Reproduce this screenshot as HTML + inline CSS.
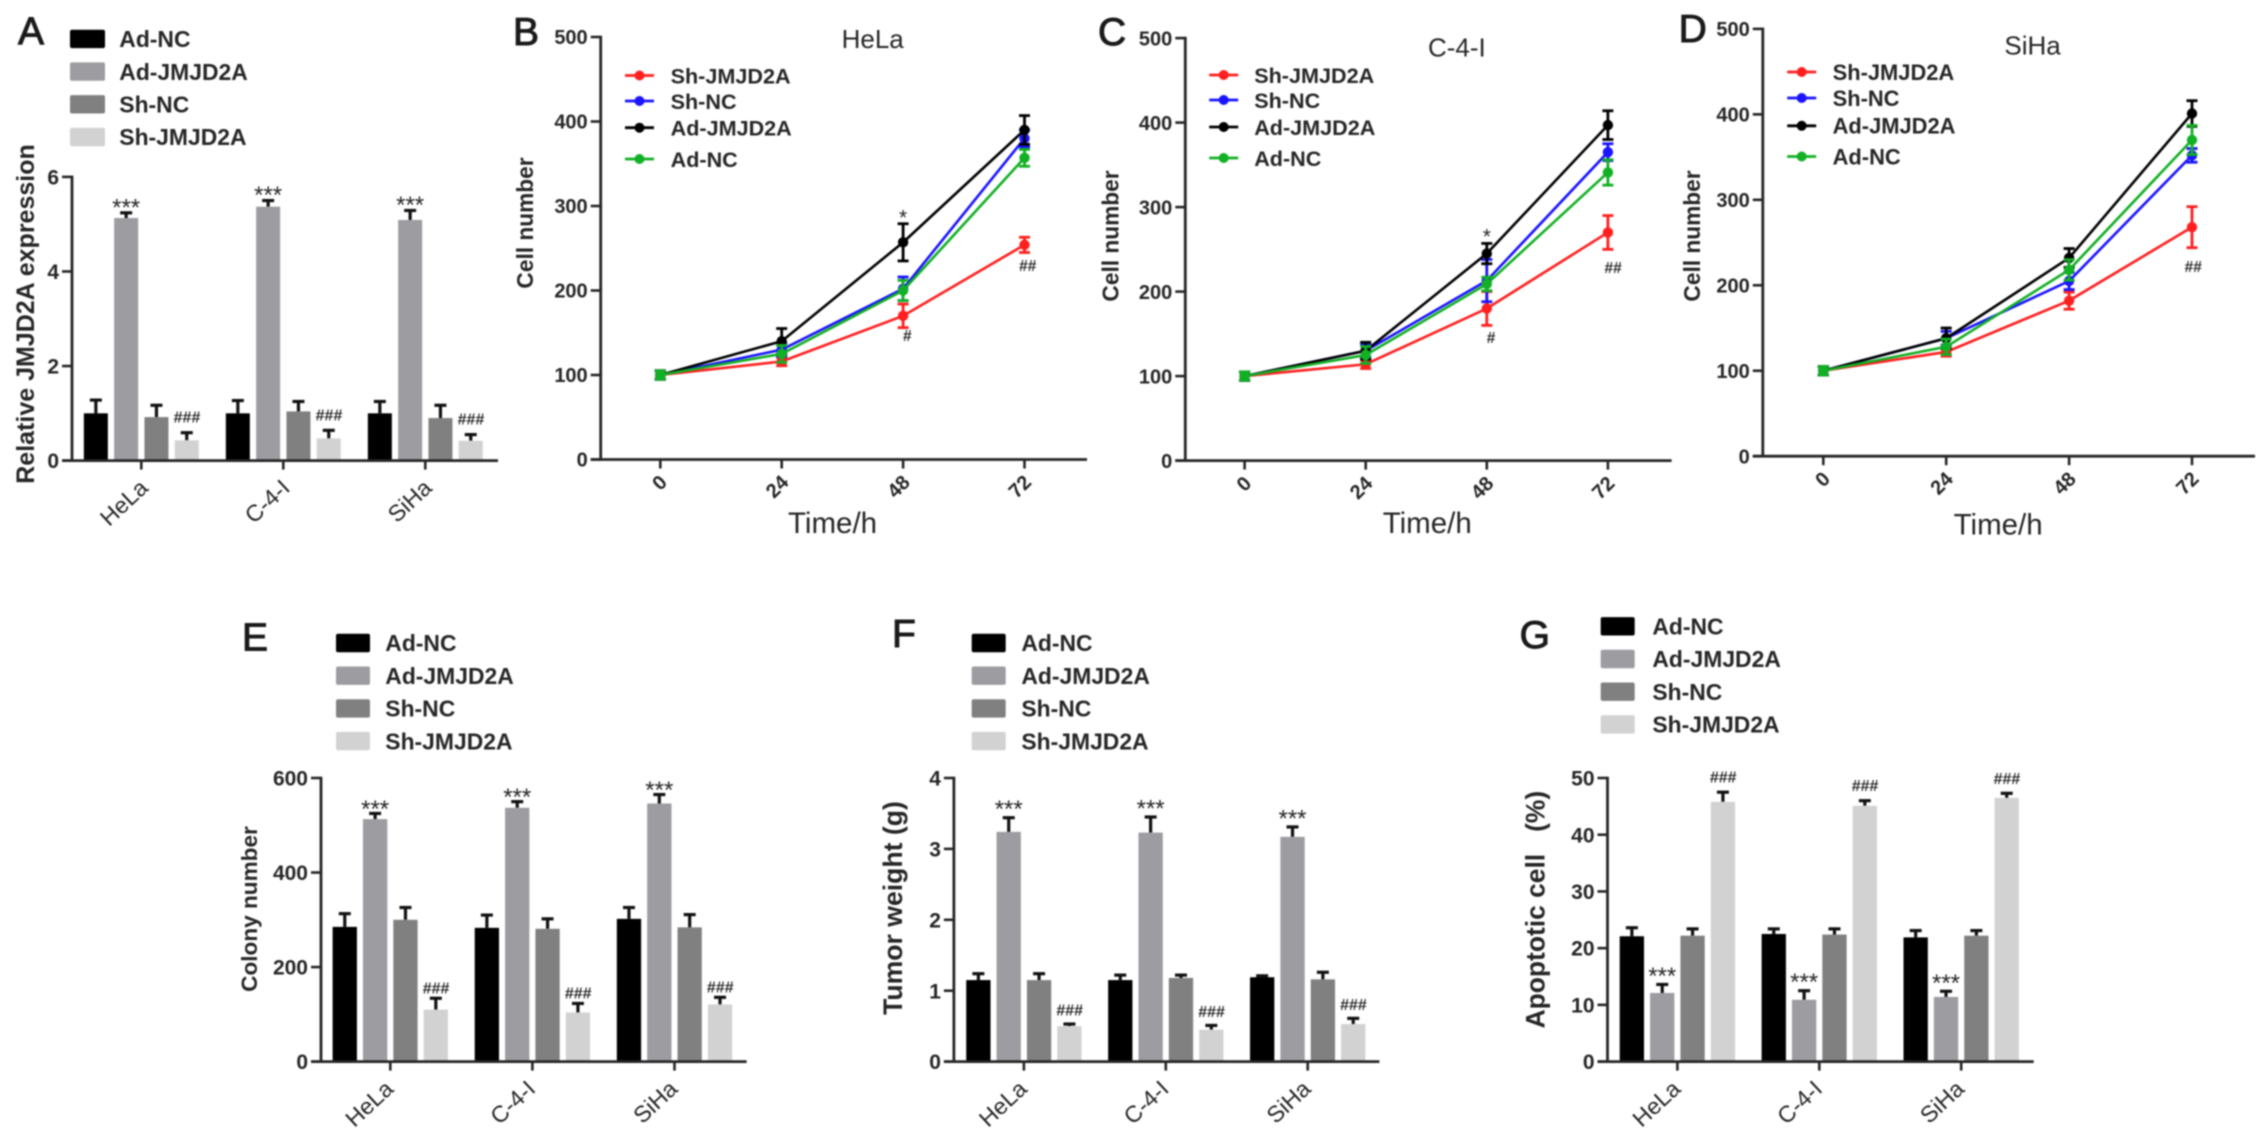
<!DOCTYPE html>
<html lang="en">
<head>
<meta charset="utf-8">
<title>JMJD2A multi-panel figure</title>
<style>
html,body{margin:0;padding:0;background:#fff;}
body{width:2268px;height:1143px;overflow:hidden;}
svg{display:block;filter:blur(0.8px);}
text{font-family:"Liberation Sans",Arial,sans-serif;fill:#262626;white-space:pre;}
</style>
</head>
<body>
<svg id="figure" xmlns="http://www.w3.org/2000/svg" width="2268" height="1143" viewBox="0 0 2268 1143"></svg>
<script>
// ---- shared categories ----
const barCategories = ['HeLa', 'C-4-I', 'SiHa'];
const barSeriesNames = ['Ad-NC', 'Ad-JMJD2A', 'Sh-NC', 'Sh-JMJD2A'];
const lineSeriesNames = ['Sh-JMJD2A', 'Sh-NC', 'Ad-JMJD2A', 'Ad-NC'];
const timeLabels = ['0', '24', '48', '72'];

// ---- panel A ----
const aTicks = [0, 2, 4, 6];
const aMeans = [[1.0, 5.13, 0.92, 0.43], [1.0, 5.37, 1.04, 0.47], [1.0, 5.09, 0.9, 0.42]];
const aErrTops = [[1.28, 5.24, 1.17, 0.59], [1.27, 5.5, 1.25, 0.64], [1.25, 5.29, 1.17, 0.55]];

// ---- panel B (HeLa) ----
const lineTicks = [0, 100, 200, 300, 400, 500];
const bMeans = [[100, 116, 170, 254], [100, 130, 202, 380], [100, 140, 257, 390], [100, 125, 200, 357]];
const bErrs = [[5, 5, 14, 9], [5, 8, 14, 10], [5, 15, 22, 17], [5, 10, 12, 10]];

// ---- panel C (C-4-I) ----
const cMeans = [[100, 114, 180, 270], [100, 130, 213, 365], [100, 130, 245, 397], [100, 125, 209, 341]];
const cErrs = [[5, 5, 20, 20], [5, 8, 25, 10], [5, 10, 12, 17], [5, 10, 8, 15]];

// ---- panel D (SiHa) ----
const dMeans = [[100, 122, 182, 268], [100, 138, 205, 352], [100, 138, 232, 401], [100, 128, 218, 370]];
const dErrs = [[5, 5, 10, 24], [5, 8, 10, 8], [5, 12, 11, 15], [5, 9, 12, 17]];

// ---- panel E ----
const eTicks = [0, 200, 400, 600];
const eMeans = [[285, 513, 300, 110], [283, 537, 281, 104], [302, 546, 284, 121]];
const eErrTops = [[313, 525, 326, 134], [310, 550, 302, 123], [326, 565, 311, 136]];

// ---- panel F ----
const fTicks = [0, 1, 2, 3, 4];
const fMeans = [[1.15, 3.24, 1.15, 0.5], [1.15, 3.23, 1.18, 0.45], [1.19, 3.17, 1.16, 0.53]];
const fErrTops = [[1.24, 3.44, 1.24, 0.53], [1.22, 3.45, 1.22, 0.51], [1.21, 3.31, 1.26, 0.61]];

// ---- panel G ----
const gTicks = [0, 10, 20, 30, 40, 50];
const gMeans = [[22.1, 12.1, 22.2, 45.8], [22.5, 10.9, 22.4, 45.1], [21.9, 11.4, 22.2, 46.5]];
const gErrTops = [[23.6, 13.6, 23.4, 47.5], [23.4, 12.5, 23.4, 46.0], [23.1, 12.4, 23.1, 47.3]];

const SVGNS = 'http://www.w3.org/2000/svg';
const INK = '#262626';
const barColors = ['#000000', '#9c9ca1', '#808080', '#d2d2d2'];
const lineColors = ['#ff1f1f', '#1a14ff', '#000000', '#12b024'];
const figure = document.getElementById('figure');

function mk(parent, tag, attrs, name) {
  const el = document.createElementNS(SVGNS, tag);
  for (const k in attrs) el.setAttribute(k, attrs[k]);
  
  
  parent.appendChild(el);
  return el;
}
function label(parent, x, y, str, size, weight, anchor, rot, name) {
  const attrs = { x: x, y: y, 'font-size': size, 'font-weight': weight, 'text-anchor': anchor };
  if (rot) attrs.transform = 'rotate(' + rot + ' ' + x + ' ' + y + ')';
  const t = mk(parent, 'text', attrs, name);
  t.textContent = str;
  return t;
}
function seg(parent, x1, y1, x2, y2, color, w, name) {
  return mk(parent, 'line', { x1: x1, y1: y1, x2: x2, y2: y2, stroke: color, 'stroke-width': w }, name);
}
function slug(s) { return s.toLowerCase().replace(/[^a-z0-9]+/g, '-'); }

function yAxis(g, p, ticks, ymax, scaleY) {
  seg(g, p.axisX, scaleY(ymax) - 1.3, p.axisX, p.y0 + 1.3, INK, 2.8, 'y-axis-line');
  ticks.forEach(function (v) {
    seg(g, p.axisX - 10, scaleY(v), p.axisX, scaleY(v), INK, 2.6, 'y-tick-' + v);
    label(g, p.axisX - 13, scaleY(v) + p.tickSize * 0.36, String(v), p.tickSize, 'bold', 'end', 0, 'y-tick-label-' + v);
  });
  seg(g, p.axisX - 10, p.y0, p.axisEnd, p.y0, INK, 2.8, 'x-axis-line');
}

function letter(g, p) {
  const t = label(g, p.letterX, p.letterY, p.letter, 39, 'normal', 'start', 0, 'panel-letter-' + p.letter.toLowerCase());
  t.setAttribute('stroke', '#1a1a1a');
  t.setAttribute('stroke-width', '1');
  t.setAttribute('style', 'fill:#1a1a1a');
}

function drawBarPanel(p, ticks, ymax, means, errTops) {
  const g = mk(figure, 'g', {}, 'panel-' + p.letter.toLowerCase());
  const scaleY = function (v) { return p.y0 - (v / ymax) * (p.y0 - p.yTop); };
  const scaleX = function (c, s) { return p.firstTick + c * p.groupStep + (s - 1.5) * p.barStep; };
  letter(g, p);
  barSeriesNames.forEach(function (nm, s) {
    const ly = p.legendY + s * p.legendStep;
    mk(g, 'rect', { x: p.swatchX, y: ly - 9.2, width: p.swatchW, height: 18.4, rx: 2, fill: barColors[s] }, 'legend-swatch-' + slug(nm));
    label(g, p.legendTextX, ly + p.legendSize * 0.36, nm, p.legendSize, 'bold', 'start', 0, 'legend-label-' + slug(nm));
  });
  means.forEach(function (row, c) {
    row.forEach(function (v, s) {
      const cx = scaleX(c, s);
      const bn = slug(barCategories[c]) + '-' + slug(barSeriesNames[s]);
      const topE = scaleY(errTops[c][s]);
      seg(g, cx, scaleY(v), cx, topE, '#111', 3.2, 'error-stem-' + bn);
      seg(g, cx - 6, topE, cx + 6, topE, '#111', 3.2, 'error-cap-' + bn);
      mk(g, 'rect', { x: cx - p.barW / 2, y: scaleY(v), width: p.barW, height: p.y0 - scaleY(v), fill: barColors[s] }, 'bar-' + bn);
      if (s === 1) label(g, cx, topE - p.starGap + 11, '***', 24, 'normal', 'middle', 0, 'significance-stars-' + slug(barCategories[c]));
      if (s === 3) {
        const h = label(g, cx, topE - p.hashGap + 5.5, '###', 16, 'normal', 'middle', 0, 'significance-hashes-' + slug(barCategories[c]));
        h.setAttribute('font-style', 'italic');
        h.setAttribute('font-weight', 'bold');
      }
    });
  });
  yAxis(g, p, ticks, ymax, scaleY);
  barCategories.forEach(function (cat, c) {
    const tx = p.firstTick + c * p.groupStep;
    seg(g, tx, p.y0, tx, p.y0 + 9, INK, 2.6, 'x-tick-' + slug(cat));
    label(g, tx + p.catDx, p.y0 + 29, cat, 23, 'normal', 'end', -43, 'x-tick-label-' + slug(cat));
  });
  label(g, p.yTitleX, p.yTitleY, p.yTitle, p.yTitleSize, 'bold', 'middle', -90, 'y-axis-title');
  return g;
}

function drawLinePanel(p, means, errs) {
  const ymax = 500;
  const g = mk(figure, 'g', {}, 'panel-' + p.letter.toLowerCase());
  const scaleY = function (v) { return p.y0 - (v / ymax) * (p.y0 - p.yTop); };
  const scaleX = function (i) { return p.firstTick + i * p.step; };
  letter(g, p);
  label(g, p.titleX, p.titleY, p.title, 26, 'normal', 'start', 0, 'chart-title');
  lineSeriesNames.forEach(function (nm, s) {
    const ly = p.legendYs[s];
    seg(g, p.legendLineX, ly, p.legendLineX + 29, ly, lineColors[s], 2.8, 'legend-line-' + slug(nm));
    mk(g, 'circle', { cx: p.legendLineX + 14.5, cy: ly, r: 5, fill: lineColors[s] }, 'legend-marker-' + slug(nm));
    label(g, p.legendTextX, ly + p.legendSize * 0.36, nm, p.legendSize, 'bold', 'start', 0, 'legend-label-' + slug(nm));
  });
  yAxis(g, p, lineTicks, ymax, scaleY);
  timeLabels.forEach(function (t, i) {
    seg(g, scaleX(i), p.y0, scaleX(i), p.y0 + 9, INK, 2.6, 'x-tick-' + t);
    label(g, scaleX(i) + 8, p.y0 + 24, t, 20, 'bold', 'end', -45, 'x-tick-label-' + t);
  });
  label(g, p.timeX, p.timeY, 'Time/h', 29.5, 'normal', 'start', 0, 'x-axis-title');
  label(g, p.yTitleX, p.yTitleY, 'Cell number', 22.7, 'bold', 'middle', -90, 'y-axis-title');
  means.forEach(function (row, s) {
    const nm = slug(lineSeriesNames[s]);
    const pts = row.map(function (v, i) { return scaleX(i) + ',' + scaleY(v); }).join(' ');
    mk(g, 'polyline', { points: pts, fill: 'none', stroke: lineColors[s], 'stroke-width': 2.6 }, 'series-line-' + nm);
    row.forEach(function (v, i) {
      const cx = scaleX(i);
      const hi = scaleY(v + errs[s][i]);
      const lo = scaleY(v - errs[s][i]);
      seg(g, cx, hi, cx, lo, lineColors[s], 2.8, 'error-bar-' + nm + '-' + timeLabels[i]);
      seg(g, cx - 5.5, hi, cx + 5.5, hi, lineColors[s], 2.8, 'error-cap-top-' + nm + '-' + timeLabels[i]);
      seg(g, cx - 5.5, lo, cx + 5.5, lo, lineColors[s], 2.8, 'error-cap-bottom-' + nm + '-' + timeLabels[i]);
      mk(g, 'circle', { cx: cx, cy: scaleY(v), r: 5.2, fill: lineColors[s] }, 'point-' + nm + '-' + timeLabels[i]);
    });
  });
  p.notes.forEach(function (n) {
    const v = means[n.s][n.i];
    const e = errs[n.s][n.i];
    if (n.text === '*') {
      label(g, scaleX(n.i) + n.dx, scaleY(v + e) - n.gap + 10, n.text, 21, 'normal', 'middle', 0, 'significance-star-' + timeLabels[n.i]);
    } else {
      const h = label(g, scaleX(n.i) + n.dx, scaleY(v - e) + n.gap + 5.5, n.text, 15.5, 'bold', 'middle', 0, 'significance-hash-' + timeLabels[n.i]);
      h.setAttribute('font-style', 'italic');
    }
  });
  return g;
}

drawBarPanel({ letter: 'A', letterX: 18, letterY: 44.4, axisX: 72, y0: 460.6, yTop: 176.9, axisEnd: 498, firstTick: 141.3, groupStep: 142, barStep: 30.3, barW: 24, tickSize: 21, catDx: 8,
  swatchX: 70, swatchW: 35, legendTextX: 119.3, legendY: 38.9, legendStep: 32.7, legendSize: 22.9, starGap: 8.5, hashGap: 15.5,
  yTitle: 'Relative JMJD2A expression', yTitleSize: 25, yTitleX: 34, yTitleY: 314 }, aTicks, 6, aMeans, aErrTops);

drawLinePanel({ letter: 'B', letterX: 513, letterY: 45, axisX: 600.7, y0: 459.5, yTop: 37, axisEnd: 1087, firstTick: 660.3, step: 121.4, tickSize: 20,
  title: 'HeLa', titleX: 841.6, titleY: 48, legendLineX: 625, legendYs: [75.5, 101, 127.7, 159], legendTextX: 670.6, legendSize: 21.6,
  timeX: 788, timeY: 533, yTitleX: 533, yTitleY: 223,
  notes: [{ s: 2, i: 2, text: '*', dx: 0, gap: 9 }, { s: 0, i: 2, text: '#', dx: 4, gap: 8 }, { s: 0, i: 3, text: '##', dx: 3, gap: 13 }] }, bMeans, bErrs);

drawLinePanel({ letter: 'C', letterX: 1098, letterY: 45, axisX: 1185.3, y0: 460.6, yTop: 38.1, axisEnd: 1671.6, firstTick: 1244.6, step: 121.1, tickSize: 20,
  title: 'C-4-I', titleX: 1428, titleY: 56.6, legendLineX: 1209.2, legendYs: [75, 100, 127, 158], legendTextX: 1254.2, legendSize: 21.6,
  timeX: 1382.7, timeY: 533, yTitleX: 1118.5, yTitleY: 236,
  notes: [{ s: 2, i: 2, text: '*', dx: 0, gap: 10 }, { s: 0, i: 2, text: '#', dx: 4, gap: 12 }, { s: 0, i: 3, text: '##', dx: 5, gap: 18 }] }, cMeans, cErrs);

drawLinePanel({ letter: 'D', letterX: 1678.6, letterY: 41.8, axisX: 1762.8, y0: 456.2, yTop: 28.9, axisEnd: 2255, firstTick: 1823.3, step: 122.9, tickSize: 20,
  title: 'SiHa', titleX: 2004.4, titleY: 54.4, legendLineX: 1787.2, legendYs: [72, 98, 125.8, 156.5], legendTextX: 1832.6, legendSize: 21.9,
  timeX: 1953.6, timeY: 534.6, yTitleX: 1700, yTitleY: 236,
  notes: [{ s: 0, i: 3, text: '##', dx: 1, gap: 19 }] }, dMeans, dErrs);

drawBarPanel({ letter: 'E', letterX: 242, letterY: 650.7, axisX: 321, y0: 1061.6, yTop: 778, axisEnd: 746.6, firstTick: 390.3, groupStep: 142.1, barStep: 30.35, barW: 24.3, tickSize: 21, catDx: 4.4,
  swatchX: 336, swatchW: 34, legendTextX: 385.3, legendY: 643, legendStep: 32.7, legendSize: 22.9, starGap: 7.5, hashGap: 10.5,
  yTitle: 'Colony number', yTitleSize: 22.6, yTitleX: 257, yTitleY: 909 }, eTicks, 600, eMeans, eErrTops);

drawBarPanel({ letter: 'F', letterX: 892, letterY: 647, axisX: 953.9, y0: 1061.6, yTop: 778, axisEnd: 1379.4, firstTick: 1023.9, groupStep: 141.9, barStep: 30.35, barW: 24.3, tickSize: 21, catDx: 4.4,
  swatchX: 971.7, swatchW: 34, legendTextX: 1021.4, legendY: 643, legendStep: 32.7, legendSize: 22.9, starGap: 11.5, hashGap: 14,
  yTitle: 'Tumor weight (g)', yTitleSize: 26.6, yTitleX: 902, yTitleY: 908 }, fTicks, 4, fMeans, fErrTops);

drawBarPanel({ letter: 'G', letterX: 1519.6, letterY: 648, axisX: 1607.5, y0: 1061.6, yTop: 778, axisEnd: 2033.7, firstTick: 1677.4, groupStep: 141.9, barStep: 30.35, barW: 24.3, tickSize: 21, catDx: 4.4,
  swatchX: 1600.7, swatchW: 34, legendTextX: 1652.4, legendY: 626.3, legendStep: 32.7, legendSize: 22.9, starGap: 11.5, hashGap: 15,
  yTitle: 'Apoptotic cell   (%)', yTitleSize: 26.4, yTitleX: 1544.6, yTitleY: 909.6 }, gTicks, 50, gMeans, gErrTops);
</script>
</body>
</html>
